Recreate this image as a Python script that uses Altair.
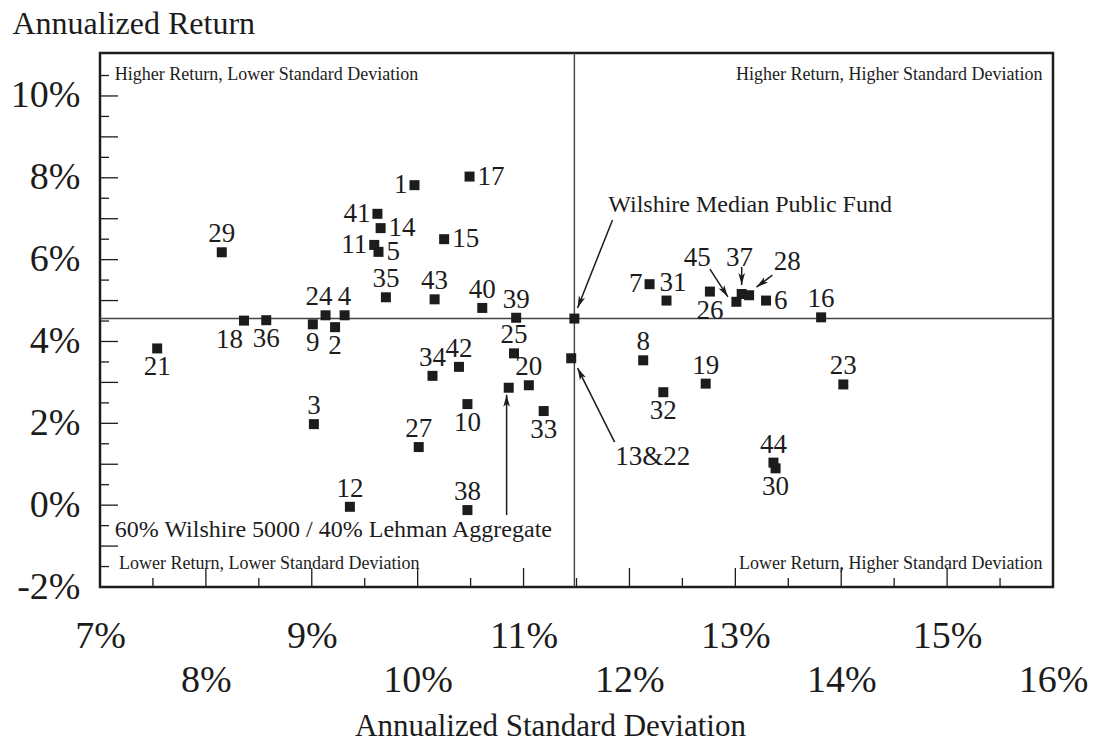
import math
import altair as alt
import pandas as pd

# ---------------- data ----------------
fund_labels = ["1", "2", "3", "4", "5", "6", "7", "8", "9", "10",
               "11", "12", "13&22", "14", "15", "16", "17", "18", "19", "20",
               "21", "23", "24", "25", "26", "27", "28", "29", "30", "31",
               "32", "33", "34", "35", "36", "37", "38", "39", "40", "41",
               "42", "43", "44", "45", "Median", "60/40"]
std_dev = [9.97, 9.22, 9.02, 9.31, 9.63, 13.29, 12.19, 12.13, 9.01, 10.47,
           9.59, 9.36, 11.45, 9.65, 10.25, 13.81, 10.49, 8.36, 12.72, 11.05,
           7.54, 14.02, 9.13, 10.91, 12.76, 10.01, 13.13, 8.15, 13.38, 12.35,
           12.32, 11.19, 10.14, 9.70, 8.57, 13.06, 10.47, 10.93, 10.61, 9.62,
           10.39, 10.16, 13.36, 13.01, 11.48, 10.86]
ann_return = [7.82, 4.35, 1.98, 4.64, 6.19, 5.00, 5.40, 3.54, 4.42, 2.47,
              6.36, -0.04, 3.59, 6.77, 6.50, 4.59, 8.03, 4.51, 2.97, 2.93,
              3.83, 2.95, 4.64, 3.71, 5.22, 1.42, 5.13, 6.18, 0.90, 5.00,
              2.76, 2.30, 3.16, 5.08, 4.52, 5.16, -0.12, 4.58, 4.82, 7.12,
              3.38, 5.03, 1.04, 4.97, 4.56, 2.87]
label_side = ["left", "below", "above", "above", "right", "right", "left", "above", "below", "below",
              "left", "above", "none", "right", "right", "above", "right", "belowleft", "above", "above",
              "below", "above", "aboveleft", "above", "below", "above", "none", "above", "below", "aboveright",
              "below", "below", "above", "above", "below", "none", "above", "above", "above", "left",
              "above", "above", "above", "none", "none", "none"]

# Wilshire median public fund (reference cross-hair)
median_std = [11.48]
median_ret = [4.56]

# quadrant captions
quad_left_text = ["Higher Return, Lower Standard Deviation", "Lower Return, Lower Standard Deviation"]
quad_left_x = [7.14, 7.18]
quad_left_y = [10.51, -1.44]
quad_right_text = ["Higher Return, Higher Standard Deviation", "Lower Return, Higher Standard Deviation"]
quad_right_x = [15.90, 15.90]
quad_right_y = [10.51, -1.44]

# annotation captions
note_left_text = ["Wilshire Median Public Fund", "60% Wilshire 5000 / 40% Lehman Aggregate"]
note_left_x = [11.80, 7.14]
note_left_y = [7.33, -0.61]
note_center_text = ["13&22", "45", "37", "28"]
note_center_x = [12.22, 12.64, 13.04, 13.49]
note_center_y = [1.17, 6.04, 6.04, 5.94]

# arrows (tail -> head)
arrow_x1 = [11.84, 11.86, 10.84, 12.76, 13.06, 13.35]
arrow_y1 = [6.97, 1.54, -0.24, 5.77, 5.82, 5.62]
arrow_x2 = [11.51, 11.51, 10.84, 12.93, 13.06, 13.20]
arrow_y2 = [4.82, 3.35, 2.70, 5.09, 5.38, 5.33]

x_label_values = [7, 8, 9, 10, 11, 12, 13, 14, 15, 16]
y_label_values = [-2, 0, 2, 4, 6, 8, 10]

# ---------------- layout / style ----------------
W, H = 953, 534
X_DOM = [7, 16]
Y_DOM = [-2, 11.05]
FONT = "Liberation Serif"
INK = "#1c1c1c"

xscale = alt.Scale(domain=X_DOM, nice=False, zero=False)
yscale = alt.Scale(domain=Y_DOM, nice=False, zero=False)

xaxis = alt.Axis(
    values=x_label_values,
    labelExpr="datum.value % 2 == 1 ? datum.value + '%' : ['', datum.value + '%']",
    labelFontSize=38, labelPadding=30, labelLineHeight=44,
    labelFlush=False, labelOverlap=False, labelBaseline="top",
    title="Annualized Standard Deviation", titleFontSize=31, titleFontWeight="normal",
    titleX=450, titleY=148, titleAlign="center", titleBaseline="alphabetic",
    ticks=False, domain=False, grid=False,
)
yaxis = alt.Axis(
    values=y_label_values,
    labelExpr="datum.value + '%'",
    labelFontSize=38, labelPadding=20, labelFlush=False, labelOverlap=False,
    title="Annualized Return", titleFontSize=32, titleFontWeight="normal",
    titleAngle=0, titleAlign="left", titleBaseline="alphabetic",
    titleX=-88, titleY=-20,
    ticks=False, domain=False, grid=False,
)


def X(field):
    return alt.X(field, type="quantitative", scale=xscale, axis=xaxis)


def Y(field):
    return alt.Y(field, type="quantitative", scale=yscale, axis=yaxis)


pts = pd.DataFrame({"fund": fund_labels, "std": std_dev, "ret": ann_return, "side": label_side})
med = pd.DataFrame({"std": median_std, "ret": median_ret})

# cross-hair lines
hline = alt.Chart(med).mark_rule(color="#444", strokeWidth=1.4).encode(y=Y("ret"))
vline = alt.Chart(med).mark_rule(color="#444", strokeWidth=1.4).encode(x=X("std"))

# inner tick marks
y_major = pd.DataFrame({"v": list(range(-1, 11))})
y_minor = pd.DataFrame({"v": [v + 0.5 for v in range(-2, 11)]})
x_major = pd.DataFrame({"v": list(range(8, 16))})
x_minor = pd.DataFrame({"v": [v + 0.5 for v in range(7, 16)]})

tick_kw = dict(color=INK, strokeWidth=1.3)
ytm = alt.Chart(y_major).mark_rule(**tick_kw).encode(y=Y("v"), x=alt.value(0), x2=alt.value(18))
ytn = alt.Chart(y_minor).mark_rule(**tick_kw).encode(y=Y("v"), x=alt.value(0), x2=alt.value(9))
xtm = alt.Chart(x_major).mark_rule(**tick_kw).encode(x=X("v"), y=alt.value(H), y2=alt.value(H - 19))
xtn = alt.Chart(x_minor).mark_rule(**tick_kw).encode(x=X("v"), y=alt.value(H), y2=alt.value(H - 9))

squares = alt.Chart(pts).mark_square(size=100, color=INK, opacity=1).encode(x=X("std"), y=Y("ret"))

txt = dict(font=FONT, fontSize=27, color=INK, baseline="middle")


def side_layer(side, **kw):
    return alt.Chart(pts).transform_filter(f"datum.side == '{side}'").mark_text(
        **kw, **txt).encode(x=X("std"), y=Y("ret"), text="fund:N")


lab_above = side_layer("above", align="center", dy=-18)
lab_below = side_layer("below", align="center", dy=19)
lab_left = side_layer("left", align="right", dx=-7)
lab_right = side_layer("right", align="left", dx=8)
lab_bl = side_layer("belowleft", align="right", dx=-1, dy=19)
lab_al = side_layer("aboveleft", align="right", dx=7, dy=-18)
lab_ar = side_layer("aboveright", align="left", dx=-7, dy=-18)

ql = pd.DataFrame({"t": quad_left_text, "x": quad_left_x, "y": quad_left_y})
qr = pd.DataFrame({"t": quad_right_text, "x": quad_right_x, "y": quad_right_y})
quad_l = alt.Chart(ql).mark_text(font=FONT, fontSize=18, color=INK, align="left", baseline="middle").encode(
    x=X("x"), y=Y("y"), text="t:N")
quad_r = alt.Chart(qr).mark_text(font=FONT, fontSize=18, color=INK, align="right", baseline="middle").encode(
    x=X("x"), y=Y("y"), text="t:N")

nl = pd.DataFrame({"t": note_left_text, "x": note_left_x, "y": note_left_y})
nc = pd.DataFrame({"t": note_center_text, "x": note_center_x, "y": note_center_y})
note_l = alt.Chart(nl).mark_text(font=FONT, fontSize=24, color=INK, align="left", baseline="middle").encode(
    x=X("x"), y=Y("y"), text="t:N")
note_c = alt.Chart(nc).mark_text(font=FONT, fontSize=27, color=INK, align="center", baseline="middle").encode(
    x=X("x"), y=Y("y"), text="t:N")

# arrows
px_x = W / (X_DOM[1] - X_DOM[0])
px_y = H / (Y_DOM[1] - Y_DOM[0])
angles = []
for a, b, c, d in zip(arrow_x1, arrow_y1, arrow_x2, arrow_y2):
    dxp = (c - a) * px_x
    dyp = -(d - b) * px_y
    angles.append((math.degrees(math.atan2(dxp, -dyp)) + 360) % 360)
arr = pd.DataFrame({"x1": arrow_x1, "y1": arrow_y1, "x2": arrow_x2, "y2": arrow_y2, "ang": angles})

shafts = alt.Chart(arr).mark_rule(color=INK, strokeWidth=1.5).encode(
    x=X("x1"), y=Y("y1"), x2="x2:Q", y2="y2:Q")
heads = alt.Chart(arr).mark_point(
    shape="M0,0L-0.55,2L0,1.5L0.55,2Z", filled=True, size=144, color=INK, opacity=1, strokeWidth=0
).encode(x=X("x2"), y=Y("y2"), angle=alt.Angle("ang:Q", scale=None))

chart = alt.layer(
    hline, vline, ytm, ytn, xtm, xtn, shafts, heads, squares,
    lab_above, lab_below, lab_left, lab_right, lab_bl, lab_al, lab_ar,
    quad_l, quad_r, note_l, note_c,
).properties(
    width=W, height=H,
    autosize=alt.AutoSizeParams(type="none"),
    padding={"left": 92, "top": 45, "right": 40, "bottom": 156},
    background="white",
).configure_view(
    stroke=INK, strokeWidth=2.5
).configure_axis(
    labelFont=FONT, titleFont=FONT, labelColor=INK, titleColor=INK
)

chart.save("out.html", embed_options={"renderer": "svg", "actions": False})
